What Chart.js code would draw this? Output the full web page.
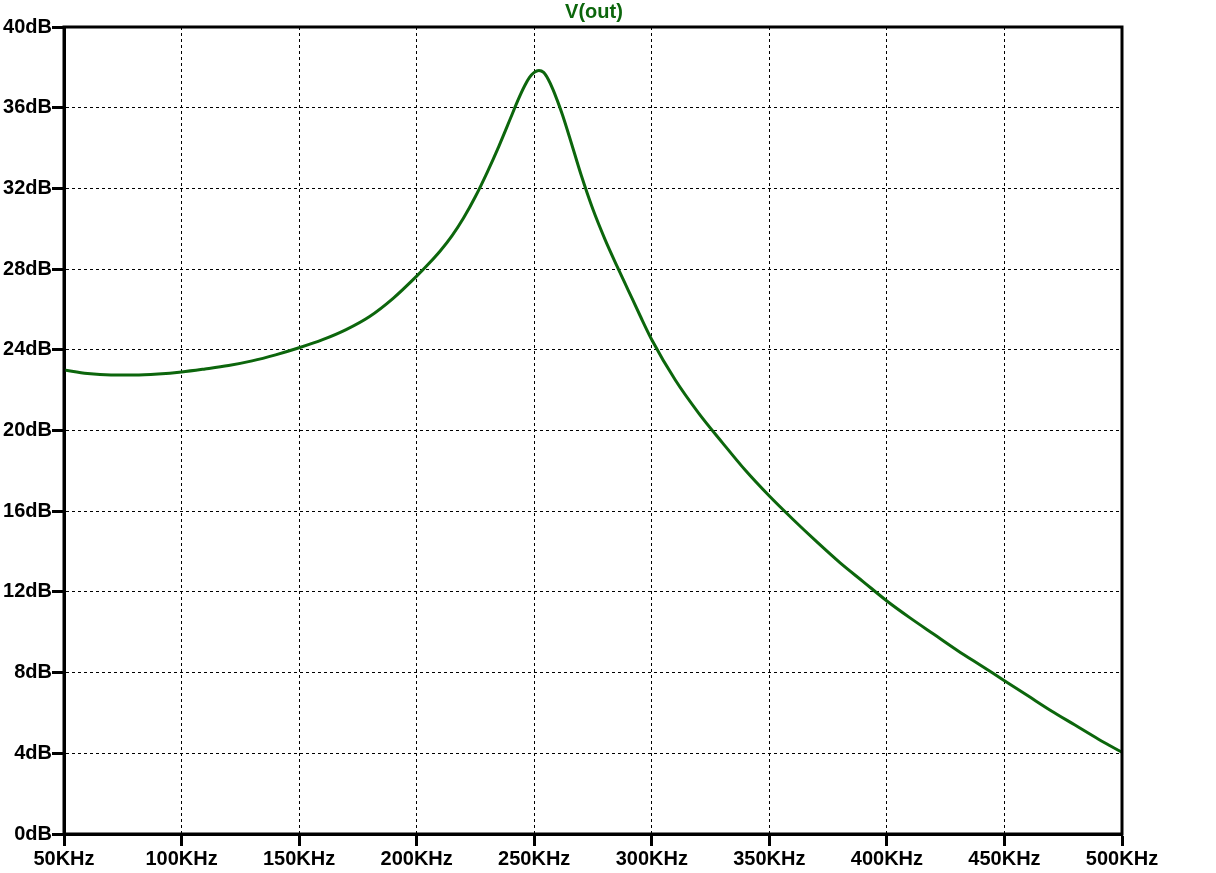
<!DOCTYPE html>
<html>
<head>
<meta charset="utf-8">
<title>V(out)</title>
<script src="https://cdn.jsdelivr.net/npm/chart.js@4/dist/chart.umd.min.js"></script>
<style>
    html, body { margin: 0; padding: 0; background: #FFFFFF; }
    #wrap { position: relative; width: 1216px; height: 873px; }
</style>
</head>
<body>
<div id="wrap"><canvas id="bodeChart"></canvas></div>
<script>

/* ==========================================
   DATA
========================================== */

const seriesName = "V(out)";

const freqKHz = [
    50, 60, 70, 80, 90, 100, 110, 120, 130, 140,
    150, 160, 170, 180, 190, 200, 205, 210, 215, 220,
    225, 230, 235, 240, 243, 246, 248, 250, 252, 254,
    256, 258, 260, 262, 265, 270, 275, 280, 285, 290,
    295, 300, 310, 320, 330, 340, 350, 360, 370, 380,
    390, 400, 410, 420, 430, 440, 450, 460, 470, 480,
    490, 500
];

const gainDB = [
    23.0, 22.82, 22.75, 22.75, 22.8, 22.9, 23.05, 23.22, 23.45, 23.75,
    24.1, 24.5, 25.0, 25.65, 26.55, 27.65, 28.25, 28.9, 29.65, 30.55,
    31.6, 32.8, 34.1, 35.5, 36.35, 37.1, 37.5, 37.75, 37.85, 37.75,
    37.4, 36.9, 36.3, 35.65, 34.55, 32.65, 30.95, 29.5, 28.2, 26.95,
    25.7, 24.5, 22.5, 20.85, 19.4, 18.0, 16.75, 15.6, 14.5, 13.45,
    12.5, 11.55, 10.7, 9.9, 9.1, 8.35, 7.6, 6.85, 6.1, 5.4,
    4.7, 4.05
];

const xTicksKHz = [50, 100, 150, 200, 250, 300, 350, 400, 450, 500];

const yTicksDB = [0, 4, 8, 12, 16, 20, 24, 28, 32, 36, 40];

/* ==========================================
   FRAME + TITLE
========================================== */

const framePlugin = {

    id: "frame",

    afterDraw(chart) {

        const { ctx, chartArea } = chart;

        ctx.save();

        ctx.strokeStyle = "#000000";
        ctx.lineWidth = 3;
        ctx.strokeRect(chartArea.left, chartArea.top, chartArea.right - chartArea.left, chartArea.bottom - chartArea.top);

        ctx.fillStyle = "#0C660C";
        ctx.font = "bold 20px 'Liberation Sans', Arial, sans-serif";
        ctx.textAlign = "center";
        ctx.textBaseline = "middle";
        ctx.fillText(seriesName, 594, 12);

        ctx.restore();

    }

};

/* ==========================================
   CHART
========================================== */

Chart.defaults.font.family = "'Liberation Sans', Arial, sans-serif";

Chart.defaults.color = "#000000";

new Chart(document.getElementById("bodeChart"), {

    type: "line",

    data: {

        datasets: [{

            label: seriesName,

            data: freqKHz.map((f, i) => ({ x: f, y: gainDB[i] })),

            borderColor: "#0C660C",

            borderWidth: 3,

            pointRadius: 0,

            fill: false,

            cubicInterpolationMode: "monotone"

        }]

    },

    options: {

        responsive: true,

        maintainAspectRatio: false,

        animation: false,

        layout: {

            padding: { top: 27, right: 94, left: 0, bottom: 0 }

        },

        plugins: {

            legend: { display: false },

            tooltip: { enabled: false }

        },

        scales: {

            x: {

                type: "linear",

                min: 50,

                max: 500,

                afterBuildTicks: (axis) => {
                    axis.ticks = xTicksKHz.map(v => ({ value: v }));
                },

                afterFit: (axis) => { axis.height = 39; },

                ticks: {
                    font: { size: 20, weight: "bold" },
                    color: "#000000",
                    padding: 1,
                    maxRotation: 0,
                    autoSkip: false,
                    callback: (v) => v + "KHz"
                },

                grid: {
                    color: "#000000",
                    lineWidth: 1,
                    tickLength: 12,
                    tickWidth: 3,
                    tickColor: "#000000"
                },

                border: {
                    display: true,
                    color: "#000000",
                    width: 3,
                    dash: [3, 3]
                }

            },

            y: {

                type: "linear",

                min: 0,

                max: 40,

                afterBuildTicks: (axis) => {
                    axis.ticks = yTicksDB.map(v => ({ value: v }));
                },

                afterFit: (axis) => { axis.width = 64; },

                ticks: {
                    font: { size: 20, weight: "bold" },
                    color: "#000000",
                    padding: 0,
                    autoSkip: false,
                    callback: (v) => v + "dB"
                },

                grid: {
                    color: "#000000",
                    lineWidth: 1,
                    tickLength: 12,
                    tickWidth: 3,
                    tickColor: "#000000"
                },

                border: {
                    display: true,
                    color: "#000000",
                    width: 3,
                    dash: [3, 3]
                }

            }

        }

    },

    plugins: [framePlugin]

});

</script>
</body>
</html>
